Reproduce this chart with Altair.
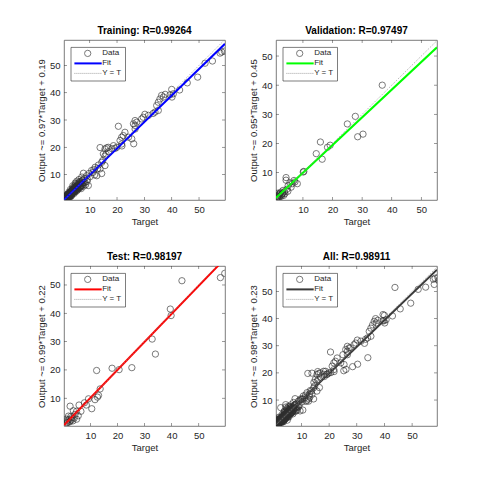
import altair as alt
import pandas as pd

# ---------------- data ----------------
train_target = [59.3, 58.3, 57.7, 54.9, 52.2, 49.5, 45.7, 42.9, 40.0, 40.6, 39.4, 40.1, 37.6, 37.0, 36.3,
                35.7, 35.1, 34.5, 35.1, 33.9, 33.2, 31.5, 30.2, 29.6, 29.0, 27.2, 26.6, 26.6, 26.0, 26.6,
                26.1, 25.4, 24.2, 22.9, 22.3, 21.7, 20.5, 21.1, 21.7, 21.8, 19.9, 18.7, 19.3, 18.1, 16.9,
                16.8, 16.2, 15.6, 13.8, 15.0, 15.6, 16.0, 14.4, 14.8, 15.6, 13.8, 14.4, 13.2, 12.9, 12.0,
                11.5, 11.2, 10.7, 11.8, 12.6, 10.2, 9.7, 9.2, 8.9, 7.7, 8.5, 9.5,
                8.1, 7.9, 7.5, 7.2, 7.0, 6.8, 6.6, 6.4, 6.2, 6.0, 5.9, 5.7, 5.5, 5.4, 5.2, 5.0, 4.9, 4.8,
                4.6, 4.5, 4.4, 4.2, 4.1, 4.0, 3.9, 3.8, 3.7, 3.6, 3.5, 3.4, 3.3, 3.2, 3.1, 3.0, 2.9, 2.8,
                2.7, 2.6, 2.5, 2.5, 2.4, 2.3, 2.2, 2.2, 2.1, 2.0, 1.9, 1.9, 1.8, 1.7, 1.7, 1.6, 1.5, 1.5,
                1.4, 1.3, 1.3, 1.2, 1.1, 1.1, 1.0, 1.0, 0.9, 1.6, 2.0, 2.7, 3.4, 4.3, 5.1, 5.8, 6.5, 7.3,
                8.3, 7.8, 6.9, 9.0, 3.0, 4.7, 5.3, 6.1, 7.1, 2.4, 3.8, 1.2, 1.8, 2.9,
                1.0, 1.2, 1.4, 1.5, 1.7, 1.8, 2.0, 2.1, 2.3, 2.4, 2.6, 2.7, 2.9, 3.0, 3.2, 3.3, 3.5, 3.6,
                3.8, 4.0, 4.2, 4.4, 4.6, 4.8, 5.0, 5.3, 5.6, 5.9, 6.2, 6.6, 7.0, 7.4, 1.1, 1.3, 1.6, 1.9,
                2.2, 2.5, 2.8, 3.1, 3.4, 3.7, 4.1, 4.5, 4.9, 5.4, 6.0, 6.7, 1.2, 1.5, 1.8, 2.1, 2.4, 2.7,
                3.0, 3.5]
train_output = [55.2, 54.9, 54.5, 51.6, 50.8, 45.7, 43.6, 41.0, 41.2, 39.6, 39.2, 38.4, 39.4, 38.4, 39.0,
                37.7, 36.5, 35.3, 33.5, 32.9, 32.4, 31.7, 32.1, 31.0, 30.4, 29.2, 29.8, 28.0, 28.6, 26.7,
                21.3, 23.1, 23.7, 25.5, 24.3, 23.7, 27.7, 22.5, 21.2, 20.5, 20.0, 20.6, 19.6, 19.5, 18.4,
                20.0, 19.8, 19.4, 19.9, 17.6, 16.8, 17.5, 14.5, 15.2, 13.3, 12.1, 10.4, 13.5, 12.2, 12.7,
                11.8, 10.8, 11.5, 9.9, 9.6, 9.3, 10.4, 8.2, 9.6, 10.5, 6.3, 6.0,
                8.6, 7.2, 8.0, 6.8, 7.6, 5.9, 6.5, 7.4, 5.2, 6.3, 7.1, 5.6, 4.8, 6.0, 5.2, 6.6, 4.4, 5.5,
                4.9, 3.8, 5.8, 4.3, 3.6, 4.8, 5.2, 3.9, 3.2, 4.4, 3.6, 2.9, 4.0, 3.3, 2.6, 3.7, 2.9, 2.4,
                3.3, 2.6, 2.0, 3.0, 2.4, 1.9, 2.7, 2.1, 1.6, 2.3, 1.8, 1.4, 2.1, 1.6, 1.2, 1.9, 1.4, 1.1,
                1.7, 1.3, 1.0, 1.5, 1.2, 0.9, 1.4, 1.1, 1.0, 2.4, 2.9, 2.0, 2.3, 3.1, 3.9, 4.6, 5.4, 6.2,
                7.1, 5.8, 4.9, 7.5, 4.6, 6.9, 7.6, 8.2, 9.1, 3.6, 5.9, 2.0, 2.8, 1.8,
                1.3, 1.0, 1.8, 1.2, 2.0, 1.5, 1.7, 2.5, 1.9, 2.8, 2.2, 3.1, 2.5, 3.5, 2.8, 3.8, 3.0, 4.1,
                3.4, 4.5, 3.8, 4.9, 4.1, 5.3, 4.5, 5.8, 4.9, 6.4, 5.5, 7.0, 6.1, 7.9, 1.5, 1.1, 2.1, 1.6,
                2.9, 2.0, 3.3, 2.5, 4.0, 3.0, 4.6, 3.6, 5.6, 4.3, 6.8, 5.4, 0.9, 1.9, 1.3, 2.6, 1.8, 3.4,
                2.2, 4.4]

val_target = [36.8, 27.7, 25.0, 28.5, 30.3, 15.9, 19.2, 18.3, 14.5, 16.5, 10.1, 10.3, 4.3, 4.3, 8.1,
              7.0, 6.4, 5.6, 5.0, 4.6, 3.8, 3.2, 2.8, 2.5, 2.2, 1.9, 1.6, 1.3, 1.2, 3.5, 4.9, 6.0,
              2.0, 3.0, 1.5, 7.3, 2.3, 2.7, 3.3, 3.9, 1.8, 1.4]
val_output = [40.0, 29.3, 26.7, 22.3, 23.2, 20.5, 19.4, 18.7, 16.5, 14.6, 10.2, 10.4, 8.3, 7.4, 6.2,
              7.3, 6.2, 6.5, 5.5, 4.3, 3.5, 3.0, 2.4, 3.3, 2.0, 2.6, 1.7, 2.9, 1.4, 2.2, 3.6, 5.0,
              1.5, 2.7, 1.1, 6.8, 2.9, 1.9, 3.9, 2.8, 2.2, 1.9]

test_target = [59.6, 58.0, 43.8, 39.5, 39.8, 32.8, 34.0, 25.3, 20.6, 18.0, 12.3, 13.6, 13.0, 12.6, 11.7,
               9.3, 10.5, 7.8, 8.5, 5.8, 2.5, 3.7, 4.9, 6.5, 4.3, 5.5, 1.9, 3.1, 4.9, 2.5, 1.2, 1.2,
               2.0, 3.5, 1.6, 2.8, 4.0, 1.4, 2.2, 3.0]
test_output = [54.1, 52.6, 51.5, 41.5, 39.2, 30.9, 25.6, 20.8, 20.1, 20.6, 19.8, 13.3, 11.0, 10.4, 9.5,
               9.8, 6.3, 8.4, 7.6, 7.6, 7.2, 5.6, 5.4, 5.4, 4.3, 3.8, 3.7, 3.1, 2.6, 1.9, 2.6, 1.3,
               2.5, 2.0, 1.5, 3.6, 3.0, 2.1, 1.6, 2.4]

panel_names = ["Training", "Validation", "Test", "All"]
panel_r = ["0.99264", "0.97497", "0.98197", "0.98911"]
fit_slope = [0.97, 0.95, 0.99, 0.98]
fit_intercept = [0.19, 0.45, 0.22, 0.23]
fit_colors = ["#0000FF", "#00FF00", "#FF0000", "#3a3a3a"]
x_domains = [[0.6, 59.5], [0.9, 55.3], [0.25, 59.7], [0.8, 59.0]]
y_domains = [[0.7, 59.3], [0.6, 55.5], [0.2, 56.7], [0.43, 59.4]]
tick_values = [10, 20, 30, 40, 50]
legend_labels = ["Data", "Fit", "Y = T"]

W, H = 161, 160
FONT = "Liberation Sans"
MARK = "#2e2e2e"
one = pd.DataFrame({"k": [0]})


def panel(i, T, O):
    xs = alt.Scale(domain=x_domains[i], nice=False, zero=False)
    ys = alt.Scale(domain=y_domains[i], nice=False, zero=False)
    ytitle = f"Output ~= {fit_slope[i]}*Target + {fit_intercept[i]}"
    xax = alt.Axis(values=tick_values, title="Target")
    yax = alt.Axis(values=tick_values, title=ytitle)
    X = lambda f: alt.X(f, type="quantitative", scale=xs, axis=xax)
    Y = lambda f: alt.Y(f, type="quantitative", scale=ys, axis=yax)

    pts = alt.Chart(pd.DataFrame({"Target": T, "Output": O})).mark_point(
        shape="circle", filled=False, size=40, stroke=MARK, strokeWidth=0.9, clip=True
    ).encode(x=X("Target"), y=Y("Output"))

    x0, x1 = x_domains[i]
    fit_df = pd.DataFrame({"Target": [x0, x1],
                           "Output": [fit_slope[i] * x0 + fit_intercept[i],
                                      fit_slope[i] * x1 + fit_intercept[i]]})
    fit = alt.Chart(fit_df).mark_line(color=fit_colors[i], strokeWidth=2, clip=True).encode(
        x=X("Target"), y=Y("Output"))

    lo = min(x_domains[i][0], y_domains[i][0])
    hi = max(x_domains[i][1], y_domains[i][1])
    diag = alt.Chart(pd.DataFrame({"Target": [lo, hi], "Output": [lo, hi]})).mark_line(
        color="#8c8c8c", strokeWidth=0.8, strokeDash=[1, 1.5], clip=True
    ).encode(x=X("Target"), y=Y("Output"))

    tdf = pd.DataFrame({"v": tick_values})
    tick_kw = dict(color="#333333", thickness=0.7, size=6, clip=True)
    t_top = alt.Chart(tdf).mark_tick(orient="vertical", **tick_kw).encode(x=X("v"), y=alt.value(0))
    t_bot = alt.Chart(tdf).mark_tick(orient="vertical", **tick_kw).encode(x=X("v"), y=alt.value(H))
    t_lef = alt.Chart(tdf).mark_tick(orient="horizontal", **tick_kw).encode(y=Y("v"), x=alt.value(0))
    t_rig = alt.Chart(tdf).mark_tick(orient="horizontal", **tick_kw).encode(y=Y("v"), x=alt.value(W))

    box = alt.Chart(one).mark_rect(fill="white", stroke="#262626", strokeWidth=0.6).encode(
        x=alt.value(7), x2=alt.value(61.5), y=alt.value(7.4), y2=alt.value(41))
    l_pt = alt.Chart(one).mark_point(shape="circle", filled=False, size=40, stroke=MARK,
                                     strokeWidth=0.9).encode(x=alt.value(23.7), y=alt.value(13.4))
    l_fit = alt.Chart(one).mark_rule(color=fit_colors[i], strokeWidth=2).encode(
        x=alt.value(10.4), x2=alt.value(37.7), y=alt.value(23.4))
    l_diag = alt.Chart(one).mark_rule(color="#8c8c8c", strokeWidth=0.8, strokeDash=[1, 1]).encode(
        x=alt.value(10.4), x2=alt.value(37.7), y=alt.value(33.4))
    texts = []
    for lab, yy in zip(legend_labels, [13.4, 23.4, 33.4]):
        texts.append(alt.Chart(one).mark_text(align="left", baseline="middle", fontSize=8, font=FONT,
                                              color="#262626").encode(
            x=alt.value(38.2), y=alt.value(yy), text=alt.value(lab)))

    return alt.layer(pts, fit, diag, t_top, t_bot, t_lef, t_rig, box, l_pt, l_fit, l_diag, *texts).properties(
        width=W, height=H, title=f"{panel_names[i]}: R={panel_r[i]}")


all_target = train_target + val_target + test_target
all_output = train_output + val_output + test_output

p1 = panel(0, train_target, train_output)
p2 = panel(1, val_target, val_output)
p3 = panel(2, test_target, test_output)
p4 = panel(3, all_target, all_output)

chart = alt.vconcat(
    alt.hconcat(p1, p2, spacing=22),
    alt.hconcat(p3, p4, spacing=22),
    spacing=24,
).properties(
    padding={"left": 28, "top": 17, "right": 5, "bottom": 5},
    background="white",
).configure_axis(
    labelFont=FONT, titleFont=FONT, labelFontSize=9.5, titleFontSize=9.5,
    titleFontWeight="normal", labelColor="#262626", titleColor="#262626",
    tickSize=0, domain=False, grid=False, labelPadding=4, titlePadding=3,
).configure_title(
    font=FONT, fontSize=10, fontWeight="bold", color="#000000", offset=4,
).configure_view(
    stroke="#5a5a5a", strokeWidth=0.8,
)

chart.save("out.html", embed_options={"renderer": "svg", "actions": False})
